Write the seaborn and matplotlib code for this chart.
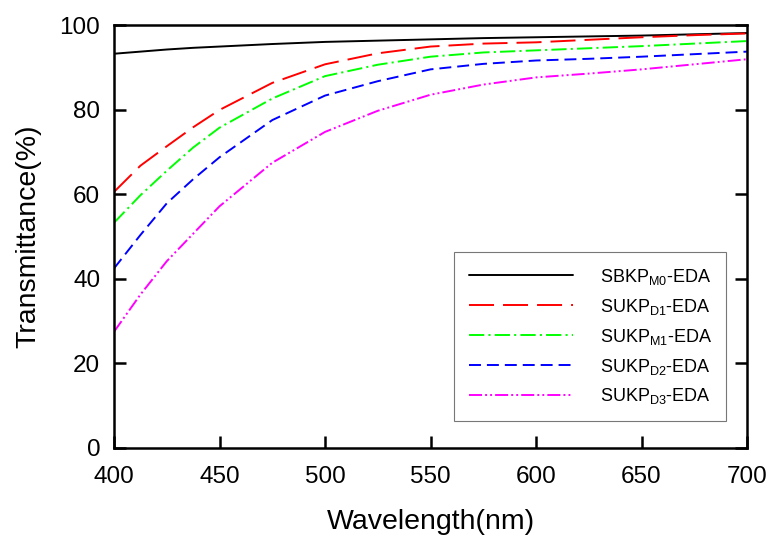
import pandas as pd
import seaborn as sns
import matplotlib.pyplot as plt

# wavelength grid (nm) and transmittance (%)
wavelength = [400, 412.5, 425, 437.5, 450, 475, 500, 525, 550, 575, 600, 625, 650, 675, 700]
sbkp_m0 = [93.3, 93.8, 94.3, 94.7, 95.0, 95.6, 96.1, 96.4, 96.7, 97.0, 97.2, 97.4, 97.6, 97.9, 98.2]
sukp_d1 = [60.6, 66.8, 71.4, 75.9, 80.0, 86.4, 90.8, 93.4, 95.0, 95.7, 96.0, 96.6, 97.2, 97.7, 98.1]
sukp_m1 = [53.3, 59.8, 65.6, 71.1, 75.8, 82.7, 88.0, 90.7, 92.6, 93.6, 94.1, 94.6, 95.1, 95.7, 96.3]
sukp_d2 = [42.5, 50.4, 57.9, 63.6, 68.8, 77.6, 83.4, 86.8, 89.6, 90.9, 91.7, 92.1, 92.6, 93.2, 93.8]
sukp_d3 = [27.5, 36.3, 44.2, 50.7, 57.2, 67.5, 74.8, 79.8, 83.6, 86.0, 87.7, 88.6, 89.6, 90.8, 92.0]

names = [r'SBKP$_{\mathregular{M0}}$-EDA', r'SUKP$_{\mathregular{D1}}$-EDA',
         r'SUKP$_{\mathregular{M1}}$-EDA', r'SUKP$_{\mathregular{D2}}$-EDA',
         r'SUKP$_{\mathregular{D3}}$-EDA']
series = [sbkp_m0, sukp_d1, sukp_m1, sukp_d2, sukp_d3]
colors = ['black', 'red', '#00ff00', 'blue', 'magenta']
dash_list = ['', (18, 6.5), (11, 3, 1.5, 3), (8.6, 4.3), (9.4, 2.2, 1.4, 2.2, 1.4, 2.2)]

df = pd.DataFrame({
    'wavelength': wavelength * len(names),
    'T': sum(series, []),
    'sample': [n for n in names for _ in wavelength],
})

sns.set_style("ticks")
plt.rcParams['font.family'] = ['Liberation Sans', 'DejaVu Sans']
plt.rcParams['mathtext.fontset'] = 'custom'
plt.rcParams['lines.scale_dashes'] = False
for k in ['text.color', 'axes.labelcolor', 'xtick.color', 'ytick.color', 'axes.edgecolor']:
    plt.rcParams[k] = 'black'

fig = plt.figure(figsize=(7.72, 5.41), dpi=100)
ax = fig.add_axes([0.1477, 0.172, 0.82, 0.781])

sns.lineplot(data=df, x='wavelength', y='T', hue='sample', style='sample',
             palette=dict(zip(names, colors)), dashes=dict(zip(names, dash_list)),
             linewidth=1.4, ax=ax)

ax.set_xlim(400, 700)
ax.set_ylim(0, 100)
ax.set_xticks(range(400, 701, 50))
ax.set_yticks(range(0, 101, 20))
ax.set_xlabel('Wavelength(nm)', fontsize=20.5, labelpad=15)
ax.set_ylabel('Transmittance(%)', fontsize=20.5, labelpad=13)
ax.tick_params(axis='both', direction='in', length=8.5, width=1.8, labelsize=17.5)
ax.tick_params(axis='x', pad=13)
ax.tick_params(axis='y', right=True, pad=10)
for s in ax.spines.values():
    s.set_linewidth(1.8)

h, l = ax.get_legend_handles_labels()
leg = ax.legend(h, l, loc='lower right', bbox_to_anchor=(0.967, 0.064), borderaxespad=0,
                fontsize=13, handlelength=5.8, handletextpad=1.45, labelspacing=0.55,
                borderpad=0.8, fancybox=False, framealpha=1, edgecolor='#777777')
leg.get_frame().set_linewidth(0.8)

fig.savefig('out.png', dpi=100)
